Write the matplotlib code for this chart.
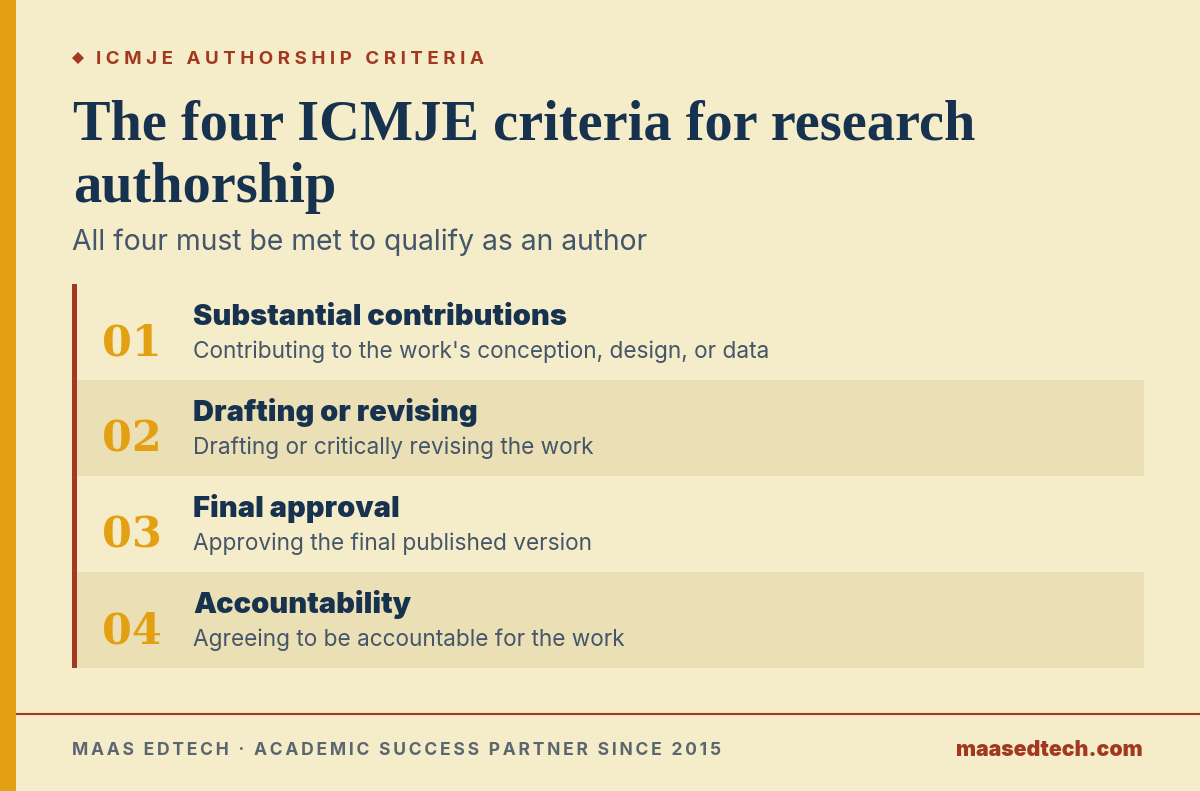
import matplotlib
matplotlib.use("Agg")
import matplotlib.pyplot as plt
from matplotlib.patches import Rectangle

eyebrow = "ICMJE AUTHORSHIP CRITERIA"
title_lines = ["The four ICMJE criteria for research", "authorship"]
subtitle = "All four must be met to qualify as an author"
numbers = ["01", "02", "03", "04"]
headings = ["Substantial contributions", "Drafting or revising", "Final approval", "Accountability"]
details = [
    "Contributing to the work's conception, design, or data",
    "Drafting or critically revising the work",
    "Approving the final published version",
    "Agreeing to be accountable for the work",
]
footer_left = "MAAS EDTECH · ACADEMIC SUCCESS PARTNER SINCE 2015"
footer_right = "maasedtech.com"

cream = "#f5ecca"
band = "#ebdfb6"
gold = "#e4a013"
rust = "#a33820"
navy = "#17324f"
slate = "#44566a"
grey = "#5b6670"

sans = ["Inter", "DejaVu Sans"]
serif = ["Liberation Serif", "DejaVu Serif"]
HAIR = "\u200a"

fig = plt.figure(figsize=(12, 7.91), dpi=100, facecolor=cream)
ax = fig.add_axes([0, 0, 1, 1])
ax.set_xlim(0, 1200)
ax.set_ylim(791, 0)
ax.axis("off")

# left strip
ax.add_patch(Rectangle((0, 0), 16, 791, color=gold, lw=0))

# header
ax.plot([78], [57.5], marker="D", ms=6, color=rust, mew=0)
ax.text(96, 64, (HAIR * 3).join(eyebrow), color=rust, fontsize=13.5, fontweight="bold", family=sans, va="baseline")
ax.text(73, 139.5, title_lines[0], color=navy, fontsize=40.6, fontweight="bold", family=serif, va="baseline")
ax.text(73, 202.5, title_lines[1], color=navy, fontsize=40.6, fontweight="bold", family=serif, va="baseline")
ax.text(72, 250, subtitle, color=slate, fontsize=20.4, family=sans, va="baseline")

# rows
row_top = 284
row_h = 96
for i, (num, head, det) in enumerate(zip(numbers, headings, details)):
    y = row_top + i * row_h
    if i % 2 == 1:
        ax.add_patch(Rectangle((77, y), 1067, row_h, color=band, lw=0))
    ax.text(102, y + 71, num, color=gold, fontsize=31, fontweight="bold", family="DejaVu Serif", va="baseline")
    ax.text(193, y + 41, head, color=navy, fontsize=20.9, fontweight="black", family=sans, va="baseline")
    ax.text(193, y + 74, det, color=slate, fontsize=16.3, family=sans, va="baseline")
ax.add_patch(Rectangle((72, row_top), 5, row_h * len(numbers), color=rust, lw=0))

# footer
ax.plot([16, 1200], [714, 714], color=rust, lw=1.5, solid_capstyle="butt")
ax.text(72, 755, (HAIR * 2).join(footer_left), color=grey, fontsize=12.6, fontweight="bold", family=sans, va="baseline")
ax.text(1143, 756, footer_right, color=rust, fontsize=15.35, fontweight="black", family=sans, va="baseline", ha="right")

fig.savefig("out.png", dpi=100, facecolor=cream)
